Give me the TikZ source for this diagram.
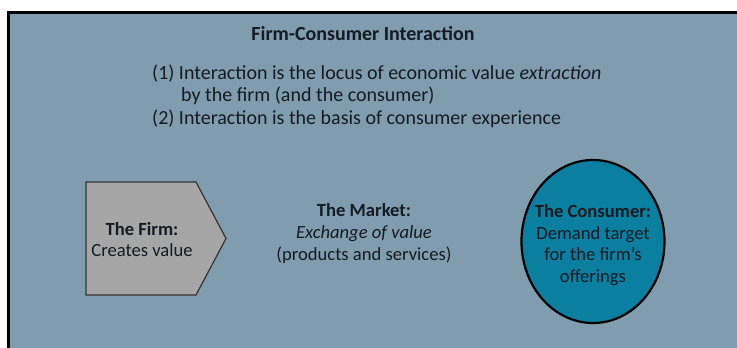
\documentclass[tikz,border=0pt]{standalone}
\usepackage{fontspec}
\setmainfont{Carlito}
\usetikzlibrary{shapes.geometric}
\definecolor{panelbg}{HTML}{7F9DAF}
\definecolor{firmgray}{HTML}{A6A6A6}
\definecolor{consumerteal}{HTML}{0A7F9F}
\definecolor{inktext}{HTML}{141B22}

\begin{document}
\begin{tikzpicture}[
    x=1pt, y=-1pt,
    every node/.style={text=inktext, font=\fontsize{20}{22.5}\selectfont},
    textblock/.style={align=center, inner sep=0pt},
    smalltext/.style={textblock, font=\fontsize{18.6}{21.7}\selectfont},
    firmbox/.style={draw=black!80, line width=1.2pt, fill=firmgray},
    consumerbox/.style={
      ellipse,
      draw=black,
      line width=2.2pt,
      fill=consumerteal,
      minimum width=143pt,
      minimum height=163pt,
      inner sep=0pt
    }
  ]
    \useasboundingbox (0,0) rectangle (737,348);
    \clip (0,0) rectangle (737,348);
    \fill[white] (0,0) rectangle (737,348);
    \draw[line width=3.5pt, fill=panelbg] (8.5,12.5) rectangle (760,370);

    % heading and the two statements
    \node[textblock] (title) at (363,34) {\textbf{Firm-Consumer Interaction}};
    \node[textblock, align=left, anchor=west] (points) at (152,96)
      {(1) Interaction is the locus of economic value \textit{extraction}\\
       \hspace*{29pt}by the firm (and the consumer)\\
       (2) Interaction is the basis of consumer experience};

    % the firm
    \draw[firmbox] (86,182) -- (196,182) -- (226,238.5) -- (196,295) -- (86,295) -- cycle;
    \node[smalltext] (firm) at (142,239.5) {\textbf{The Firm:}\\Creates value};

    % the market
    \node[smalltext] (market) at (364,233.5)
      {\textbf{The Market:}\\\textit{Exchange of value}\\(products and services)};

    % the consumer
    \node[consumerbox] (consumer) at (593,241.5) {};
    \node[smalltext] (consumertext) at (593,245)
      {\textbf{The Consumer:}\\Demand target\\for the firm's\\offerings};
  \end{tikzpicture}
\end{document}
